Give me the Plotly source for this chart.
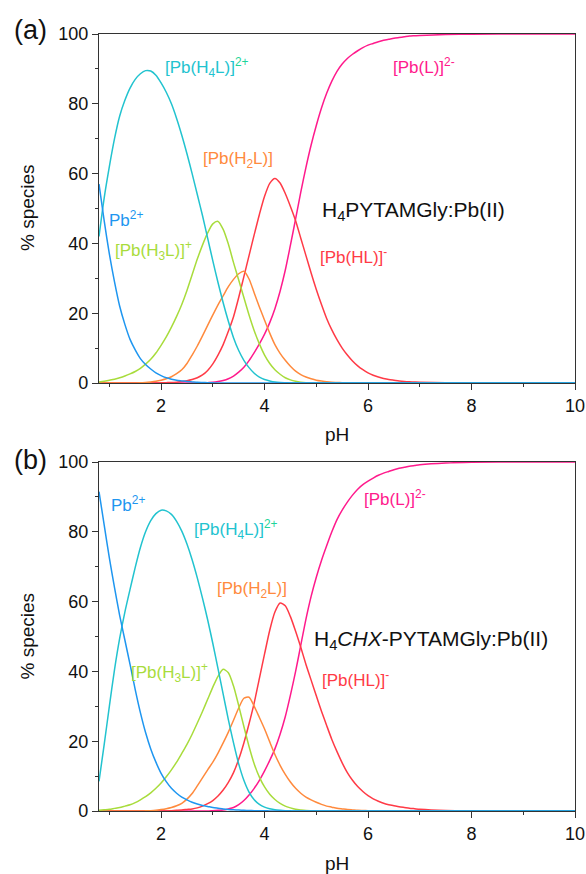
import plotly.graph_objects as go

# ---------------- data ----------------
pH = [0.8, 0.9, 1.0, 1.1, 1.2, 1.3, 1.4, 1.5, 1.6, 1.7,
      1.8, 1.9, 2.0, 2.1, 2.2, 2.3, 2.4, 2.5, 2.6, 2.7,
      2.8, 2.9, 3.0, 3.1, 3.2, 3.3, 3.4, 3.5, 3.6, 3.7,
      3.8, 3.9, 4.0, 4.1, 4.2, 4.3, 4.4, 4.5, 4.6, 4.7,
      4.8, 4.9, 5.0, 5.1, 5.2, 5.3, 5.4, 5.5, 5.6, 5.7,
      5.8, 5.9, 6.0, 6.1, 6.2, 6.3, 6.4, 6.5, 6.6, 6.7,
      6.8, 6.9, 7.0, 7.5, 8.0, 9.0, 10.0]

# panel (a) H4PYTAMGly:Pb(II)  -- % species
a_Pb = [57, 46.5, 37, 29, 22, 16.8, 12.5, 9.5, 7, 5.3,
        4, 2.9, 2.1, 1.5, 1.1, 0.8, 0.6, 0.4, 0.3, 0.2,
        0.15, 0.1, 0.05, 0, 0, 0, 0, 0, 0, 0,
        0, 0, 0, 0, 0, 0, 0, 0, 0, 0,
        0, 0, 0, 0, 0, 0, 0, 0, 0, 0,
        0, 0, 0, 0, 0, 0, 0, 0, 0, 0,
        0, 0, 0, 0, 0, 0, 0]
a_H4L = [42, 53, 62, 70, 76.5, 81, 84.5, 87, 88.6, 89.5,
         89.4, 88.2, 86, 83.3, 80, 75.8, 71, 65.7, 60, 54,
         48, 41.5, 35, 28.8, 23, 17.7, 13, 9.3, 6.5, 4.4,
         2.8, 1.7, 1.0, 0.6, 0.3, 0.15, 0.08, 0.03, 0, 0,
         0, 0, 0, 0, 0, 0, 0, 0, 0, 0,
         0, 0, 0, 0, 0, 0, 0, 0, 0, 0,
         0, 0, 0, 0, 0, 0, 0]
a_H3L = [0.3, 0.5, 0.8, 1.1, 1.5, 2.0, 2.6, 3.3, 4.2, 5.4,
         6.8, 8.6, 10.8, 13.2, 16, 19.1, 22.5, 26.5, 31, 35.5,
         39.5, 43, 45.6, 46.3, 44, 39.8, 34.5, 29.5, 24.5, 19.5,
         15, 11.2, 8, 5.6, 3.8, 2.5, 1.5, 0.9, 0.5, 0.25,
         0.1, 0.05, 0, 0, 0, 0, 0, 0, 0, 0,
         0, 0, 0, 0, 0, 0, 0, 0, 0, 0,
         0, 0, 0, 0, 0, 0, 0]
a_H2L = [0, 0, 0, 0, 0, 0, 0, 0.02, 0.05, 0.15,
         0.3, 0.5, 0.8, 1.2, 1.8, 2.7, 3.8, 5.6, 8, 10.6,
         13.5, 16.5, 19.5, 22.4, 25, 27.6, 29.7, 31.3, 32, 29.8,
         25.8, 21.8, 18, 14.3, 11, 8.5, 6.5, 4.8, 3.4, 2.4,
         1.7, 1.2, 0.8, 0.55, 0.35, 0.22, 0.15, 0.08, 0.04, 0,
         0, 0, 0, 0, 0, 0, 0, 0, 0, 0,
         0, 0, 0, 0, 0, 0, 0]
a_HL = [0, 0, 0, 0, 0, 0, 0, 0, 0, 0,
        0, 0, 0.05, 0.1, 0.15, 0.25, 0.4, 0.65, 1.0, 1.5,
        2.3, 3.6, 5.5, 8, 11, 14.8, 19, 24.5, 30.5, 36.5,
        42.5, 48.3, 53.5, 57.2, 58.6, 57.3, 54.3, 50.6, 46.5, 41.5,
        36.5, 31.5, 26.8, 22.5, 18.5, 15.2, 12.4, 10, 8, 6.3,
        4.9, 3.8, 2.9, 2.2, 1.7, 1.3, 1.0, 0.8, 0.6, 0.45,
        0.35, 0.27, 0.2, 0.08, 0.03, 0, 0]
a_L = [0, 0, 0, 0, 0, 0, 0, 0, 0, 0,
       0, 0, 0, 0, 0, 0, 0, 0, 0, 0,
       0, 0.1, 0.2, 0.4, 0.7, 1.2, 2.0, 3.1, 4.5, 6.4,
       8.7, 11.2, 14, 17.3, 21.3, 26.3, 32.3, 39.5, 47, 54.7,
       61.8, 68.2, 73.8, 78.8, 83, 86.5, 89.3, 91.4, 93, 94.2,
       95.2, 96.1, 96.8, 97.3, 97.8, 98.2, 98.5, 98.8, 99, 99.2,
       99.4, 99.5, 99.6, 99.85, 99.95, 100, 100]

# panel (b) H4CHX-PYTAMGly:Pb(II)  -- % species
b_Pb = [91.5, 82, 72.5, 64, 56, 49, 42, 34.8, 28.2, 22.5,
        17.8, 14, 10.8, 8.4, 6.5, 5.1, 4.0, 3.2, 2.5, 2.0,
        1.6, 1.3, 1.0, 0.8, 0.6, 0.45, 0.35, 0.27, 0.2, 0.15,
        0.1, 0.07, 0.05, 0.03, 0.02, 0, 0, 0, 0, 0,
        0, 0, 0, 0, 0, 0, 0, 0, 0, 0,
        0, 0, 0, 0, 0, 0, 0, 0, 0, 0,
        0, 0, 0, 0, 0, 0, 0]
b_H4L = [8.5, 19, 30, 40.5, 49.5, 57, 63.5, 69.8, 75.5, 80,
         83.2, 85.2, 86.2, 86.0, 85.0, 83.0, 80.2, 76.5, 72, 66.8,
         61, 54.8, 48, 40.8, 33.5, 26.2, 19.5, 13.5, 8.8, 5.4,
         3.2, 1.9, 1.1, 0.65, 0.35, 0.2, 0.1, 0.05, 0, 0,
         0, 0, 0, 0, 0, 0, 0, 0, 0, 0,
         0, 0, 0, 0, 0, 0, 0, 0, 0, 0,
         0, 0, 0, 0, 0, 0, 0]
b_H3L = [0.2, 0.35, 0.5, 0.75, 1.0, 1.4, 1.8, 2.4, 3.2, 4.1,
         5.2, 6.5, 8, 9.8, 11.8, 14, 16.5, 19.1, 22, 25.2,
         28.5, 32, 35.5, 38.6, 40.6, 39.6, 35.8, 30.2, 24.2, 18.5,
         13.5, 9.7, 6.9, 4.8, 3.3, 2.2, 1.4, 0.9, 0.5, 0.3,
         0.15, 0.08, 0.03, 0, 0, 0, 0, 0, 0, 0,
         0, 0, 0, 0, 0, 0, 0, 0, 0, 0,
         0, 0, 0, 0, 0, 0, 0]
b_H2L = [0, 0, 0, 0, 0, 0, 0, 0, 0, 0.05,
         0.1, 0.2, 0.4, 0.65, 1.0, 1.5, 2.2, 3.4, 5, 7.2,
         9.5, 11.8, 14, 16.6, 19.5, 22.6, 26, 29.5, 32.3, 32.6,
         30, 26.8, 23.5, 19.8, 16.2, 13.1, 10.5, 8.3, 6.5, 5.1,
         4.0, 3.2, 2.5, 1.9, 1.4, 1.1, 0.8, 0.6, 0.4, 0.3,
         0.2, 0.15, 0.1, 0.05, 0, 0, 0, 0, 0, 0,
         0, 0, 0, 0, 0, 0, 0]
b_HL = [0, 0, 0, 0, 0, 0, 0, 0, 0, 0,
        0, 0, 0, 0, 0.1, 0.2, 0.3, 0.45, 0.6, 0.9,
        1.4, 2.1, 3, 4.3, 6, 8.2, 11, 14.8, 19.5, 25,
        31, 38, 45, 51.8, 57, 59.6, 58.8, 55.7, 51.5, 46.9,
        42, 37.5, 33, 28.6, 24.5, 20.5, 17, 13.8, 11, 8.8,
        7, 5.6, 4.4, 3.5, 2.8, 2.2, 1.8, 1.5, 1.2, 1.0,
        0.8, 0.65, 0.5, 0.15, 0.05, 0, 0]
b_L = [0, 0, 0, 0, 0, 0, 0, 0, 0, 0,
       0, 0, 0, 0, 0, 0, 0, 0, 0, 0,
       0, 0, 0.1, 0.2, 0.3, 0.6, 1.0, 1.8, 3.0, 4.6,
       6.5, 8.8, 11.5, 14.5, 17.8, 22, 27, 33.2, 40, 47.5,
       55, 61.5, 67, 71.8, 76, 80, 83.5, 86.2, 88.5, 90.5,
       92.2, 93.5, 94.5, 95.4, 96.2, 96.8, 97.3, 97.8, 98.2, 98.5,
       98.8, 99.0, 99.2, 99.7, 99.9, 100, 100]

x_ticks = [2, 4, 6, 8, 10]
x_minor = [1, 3, 5, 7, 9]
y_ticks = [0, 20, 40, 60, 80, 100]
y_minor = [10, 30, 50, 70, 90]

# ---------------- styles ----------------
C_PB = "#1e96f0"
C_H4L = "#22c3cf"
C_H4L_SUP = "#1fd49a"
C_H3L = "#a8dc3c"
C_H2L = "#ff8a3d"
C_HL = "#ff3a46"
C_L = "#ff1a8c"
FONT = "Liberation Sans, Arial, sans-serif"

fig = go.Figure()

panels = [
    ("x", "y", a_Pb, a_H4L, a_H3L, a_H2L, a_HL, a_L),
    ("x2", "y2", b_Pb, b_H4L, b_H3L, b_H2L, b_HL, b_L),
]
for xa_id, ya_id, pb, h4l, h3l, h2l, hl, l in panels:
    for vals, col, name in [(l, C_L, "[Pb(L)]2-"), (hl, C_HL, "[Pb(HL)]-"),
                            (h2l, C_H2L, "[Pb(H2L)]"), (h3l, C_H3L, "[Pb(H3L)]+"),
                            (h4l, C_H4L, "[Pb(H4L)]2+"), (pb, C_PB, "Pb2+")]:
        fig.add_trace(go.Scatter(x=pH, y=vals, mode="lines", name=name,
                                 line=dict(color=col, width=1.5, shape="spline", smoothing=0.7),
                                 xaxis=xa_id, yaxis=ya_id, showlegend=False, cliponaxis=True))

axis_common = dict(
    showline=True, linecolor="#333333", linewidth=1.3, mirror=True,
    ticks="outside", ticklen=6, tickwidth=1.3, tickcolor="#333333",
    showgrid=False, zeroline=False, layer="below traces", automargin=False,
    tickfont=dict(family=FONT, size=18, color="#111111"),
)
xa = dict(axis_common, range=[0.8, 10], tickvals=x_ticks, ticktext=[str(v) for v in x_ticks],
          minor=dict(tickvals=x_minor, ticklen=3, ticks="outside", tickcolor="#333333", tickwidth=1.3),
          domain=[99 / 586, 575 / 586])
ya = dict(axis_common, range=[0, 100], tickvals=y_ticks, ticktext=[str(v) for v in y_ticks],
          minor=dict(tickvals=y_minor, ticklen=3, ticks="outside", tickcolor="#333333", tickwidth=1.3))

fig.update_layout(
    width=586, height=874, margin=dict(l=0, r=0, t=0, b=0, autoexpand=False),
    paper_bgcolor="white", plot_bgcolor="white",
    xaxis=dict(xa, anchor="y"),
    yaxis=dict(ya, anchor="x", domain=[1 - 383 / 874, 1 - 34 / 874]),
    xaxis2=dict(xa, anchor="y2"),
    yaxis2=dict(ya, anchor="x2", domain=[1 - 811 / 874, 1 - 462 / 874]),
)

def lab(text, x, y, col, size, xref, yref):
    fig.add_annotation(text=text, x=x, y=y, xref=xref, yref=yref, showarrow=False,
                       font=dict(family=FONT, size=size, color=col),
                       xanchor="center", yanchor="middle")

sup_h4l = "[Pb(H<sub>4</sub>L)]<sup><span style='color:%s'>2+</span></sup>" % C_H4L_SUP
# panel (a) labels
lab(sup_h4l, 2.88, 90.3, C_H4L, 17, "x", "y")
lab("[Pb(H<sub>2</sub>L)]", 3.48, 63.9, C_H2L, 17, "x", "y")
lab("[Pb(L)]<sup>2-</sup>", 7.08, 90.8, C_L, 17, "x", "y")
lab("Pb<sup>2+</sup>", 1.33, 47, C_PB, 17, "x", "y")
lab("[Pb(H<sub>3</sub>L)]<sup>+</sup>", 1.85, 38, C_H3L, 17, "x", "y")
lab("H<sub>4</sub>PYTAMGly:Pb(II)", 6.87, 49.3, "#111111", 21, "x", "y")
lab("[Pb(HL)]<sup>-</sup>", 5.72, 36.4, C_HL, 17, "x", "y")
# panel (b) labels
lab("Pb<sup>2+</sup>", 1.37, 88, C_PB, 17, "x2", "y2")
lab(sup_h4l, 3.44, 80.8, C_H4L, 17, "x2", "y2")
lab("[Pb(H<sub>2</sub>L)]", 3.75, 63.3, C_H2L, 17, "x2", "y2")
lab("[Pb(L)]<sup>2-</sup>", 6.53, 89.7, C_L, 17, "x2", "y2")
lab("[Pb(H<sub>3</sub>L)]<sup>+</sup>", 2.16, 39.8, C_H3L, 17, "x2", "y2")
lab("H<sub>4</sub><i>CHX</i>-PYTAMGly:Pb(II)", 7.21, 49, "#111111", 21, "x2", "y2")
lab("[Pb(HL)]<sup>-</sup>", 5.76, 37.8, C_HL, 17, "x2", "y2")

# axis titles and panel letters
for yc in [1 - 208 / 874, 1 - 636.5 / 874]:
    fig.add_annotation(text="% species", x=27 / 586, y=yc, xref="paper", yref="paper",
                       showarrow=False, textangle=-90, xanchor="center", yanchor="middle",
                       font=dict(family=FONT, size=19, color="#111111"))
for yc in [1 - 434 / 874, 1 - 863 / 874]:
    fig.add_annotation(text="pH", x=337 / 586, y=yc, xref="paper", yref="paper",
                       showarrow=False, xanchor="center", yanchor="middle",
                       font=dict(family=FONT, size=19, color="#111111"))
lab("(a)", 30 / 586, 1 - 30 / 874, "#111111", 27, "paper", "paper")
lab("(b)", 30 / 586, 1 - 460 / 874, "#111111", 27, "paper", "paper")

fig.write_html("out.html")
